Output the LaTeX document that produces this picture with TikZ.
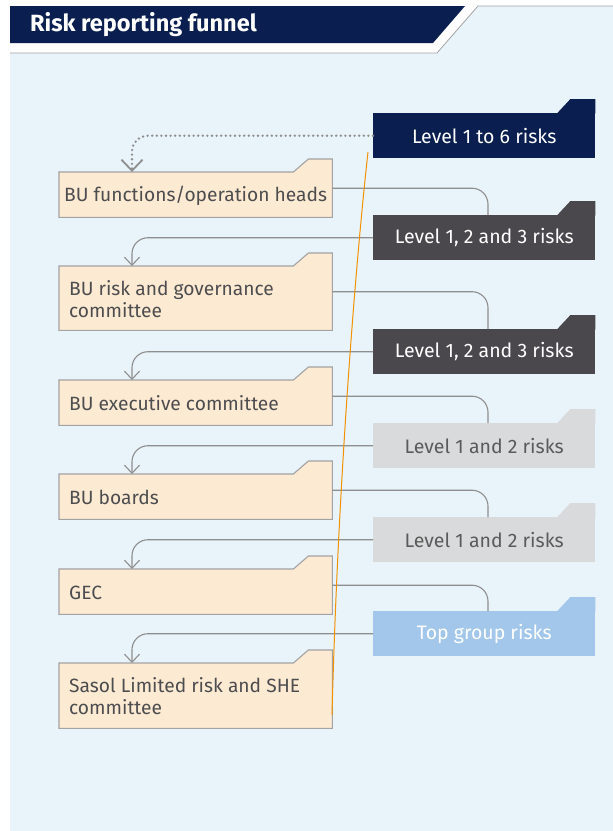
\documentclass[tikz,border=0pt]{standalone}
\usepackage{fontspec}
\setmainfont{Fira Sans}
\usetikzlibrary{arrows.meta,calc}
\definecolor{navy}{HTML}{0A1F4F}
\definecolor{dgray}{HTML}{4A484C}
\definecolor{lgray}{HTML}{D9DADB}
\definecolor{lgtext}{HTML}{5B5B5B}
\definecolor{lblue}{HTML}{A2C7EA}
\definecolor{beige}{HTML}{FDEAD3}
\definecolor{panel}{HTML}{E9F3FA}
\definecolor{bord}{HTML}{A3A3A3}
\definecolor{conncol}{HTML}{8E8E8E}
\definecolor{txt}{HTML}{4D4D4F}
\definecolor{orng}{HTML}{F39200}
\tikzset{
  lshape/.style={anchor=north west, minimum width=273pt, inner sep=0pt},
  ltext/.style={anchor=west, inner sep=0pt, align=left, text=txt, font=\fontsize{19.2}{22}\selectfont},
  rbox/.style={anchor=north west, minimum width=222pt, minimum height=45pt, inner sep=0pt, font=\fontsize{19.5}{22}\selectfont},
  conn/.style={draw=conncol, line width=1.1pt, rounded corners=16pt},
  arr/.style={-{Straight Barb[length=8pt,width=15pt,line width=1.1pt]}},
  dotconn/.style={draw=conncol, line width=2.6pt, dash pattern=on 0pt off 4.6pt, line cap=round, rounded corners=16pt, -{Straight Barb[length=11pt,width=21pt,line width=1.8pt]}},
}
\newcommand\leftbox[5]{% name, top, height, text x, text
  \node[lshape, minimum height=#3pt] (#1) at (59,#2) {};
  \filldraw[fill=beige, draw=bord, line width=1.1pt] (#1.south west) -- (#1.north west) -- ($(#1.north east)+(-39,0)$) -- ++(15,-13) -- ++(24,0) -- (#1.south east) -- cycle;
  \node[ltext] (#1t) at (#4,#2+#3/2+1) {#5};
}
\newcommand\rightbox[5]{% name, top, fill, text colour, text
  \node[rbox, fill=#3, text=#4] (#1) at (373,#2) {#5};
  \fill[#3] ($(#1.north east)+(0,0.5)$) -- ++(0,-14.5) -- ++(-25,0) -- ++(-13.5,14.5) -- cycle;
  \coordinate (#1in) at ($(#1.north west)+(115,0)$);
}
\begin{document}
\begin{tikzpicture}[x=1pt,y=-1pt]
\useasboundingbox (0,0) rectangle (613,831);
\fill[white] (0,0) rectangle (613,831);
% panel
\fill[panel] (10,831) -- (10,53) -- (437,53) -- (478,6) -- (613,6) -- (613,831) -- cycle;
\draw[bord, line width=0.8pt] (10,53) -- (437,53) -- (478,6) -- (613,6);
% title
\fill[navy] (10,6) -- (465,6) -- (433,43) -- (10,43) -- cycle;
\node[anchor=west, text=white, font=\fontsize{23.5}{27}\selectfont\bfseries, inner sep=0pt] (title) at (30,25) {Risk reporting funnel};

% left boxes
\leftbox{b1}{172}{45}{64}{BU functions/operation heads}
\leftbox{b2}{266}{64}{69}{BU risk and governance\\committee}
\leftbox{b3}{380}{45}{69}{BU executive committee}
\leftbox{b4}{474}{45}{69}{BU boards}
\leftbox{b5}{569}{45}{69}{GEC}
\leftbox{b6}{663}{65}{69}{Sasol Limited risk and SHE\\committee}

% right boxes
\rightbox{r1}{113}{navy}{white}{Level 1 to 6 risks}
\rightbox{r2}{215}{dgray}{white}{Level 1, 2 and 3 risks}
\rightbox{r3}{329}{dgray}{white}{Level 1, 2 and 3 risks}
\rightbox{r4}{423}{lgray}{lgtext}{Level 1 and 2 risks}
\rightbox{r5}{517}{lgray}{lgtext}{Level 1 and 2 risks}
\rightbox{r6}{611}{lblue}{white}{Top group risks}

% arrival points on left boxes
\foreach \b in {b1,b2,b3,b4,b5,b6} {\coordinate (\b in) at ($(\b.north west)+(73,0)$);}

% connectors
\draw[dotconn] (r1.west) -| (b1in);
\draw[conn] ([yshift=6.5pt]b1.east) -| (r2in);
\draw[conn, arr] (r2.west) -| (b2in);
\draw[conn] ([yshift=6.5pt]b2.east) -| (r3in);
\draw[conn, arr] (r3.west) -| (b3in);
\draw[conn] ([yshift=6.5pt]b3.east) -| (r4in);
\draw[conn, arr] (r4.west) -| (b4in);
\draw[conn] ([yshift=6.5pt]b4.east) -| (r5in);
\draw[conn, arr] (r5.west) -| (b5in);
\draw[conn] ([yshift=6.5pt]b5.east) -| (r6in);
\draw[conn, arr] (r6.west) -| (b6in);

% orange line
\coordinate (o1) at (368,152);
\coordinate (o2) at (332,715);
\draw[orng, line width=1pt] (o1) .. controls (356,260) and (338,480) .. (o2);
\end{tikzpicture}
\end{document}
